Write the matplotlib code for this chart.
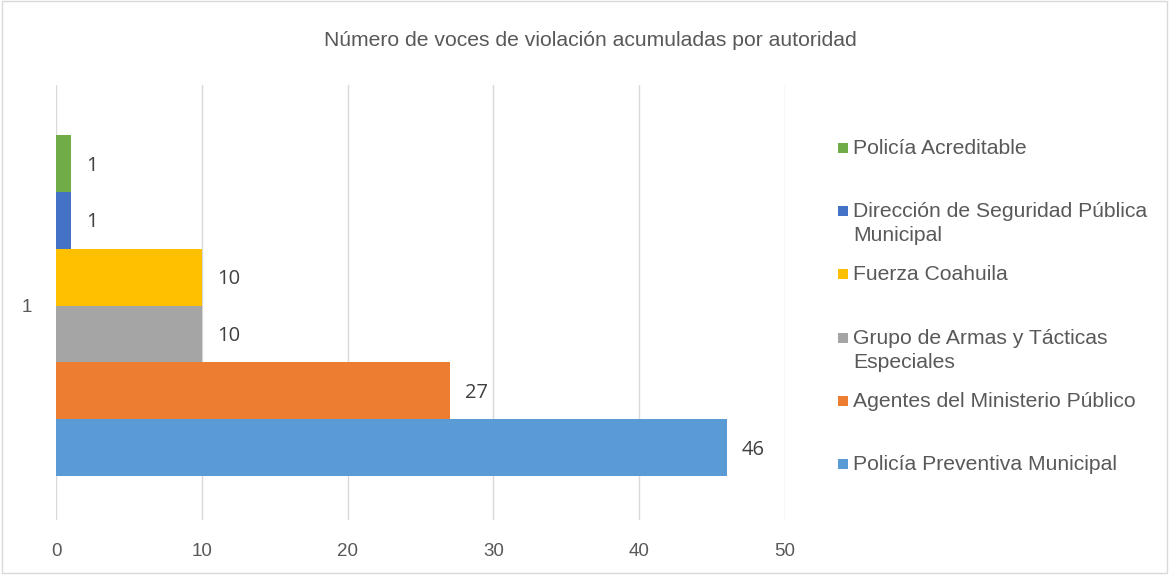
import matplotlib.pyplot as plt
from matplotlib.patches import Rectangle

# ===============================
# Data
# ===============================

titulo = "Número de voces de violación acumuladas por autoridad"
autoridades = [
    "Policía Acreditable",
    "Dirección de Seguridad Pública\nMunicipal",
    "Fuerza Coahuila",
    "Grupo de Armas y Tácticas\nEspeciales",
    "Agentes del Ministerio Público",
    "Policía Preventiva Municipal",
]
valores = [1, 1, 10, 10, 27, 46]
colores = ["#70AD47", "#4472C4", "#FFC000", "#A5A5A5", "#ED7D31", "#5B9BD5"]
categoria = ["1"]
xticks = [0, 10, 20, 30, 40, 50]

W, H = 1169, 575
TXT = "#595959"

plt.rcParams['font.family'] = ['Liberation Sans', 'DejaVu Sans']

fig = plt.figure(figsize=(W / 100, H / 100), dpi=100)

def fx(px):
    return px / W

def fy(py):
    return 1 - py / H

# chart border
fig.patches.append(Rectangle((fx(2), fy(573)), fx(1165), 1 - 3 / H, transform=fig.transFigure,
                             fill=False, edgecolor="#D9D9D9", linewidth=1))

ax = fig.add_axes([fx(56), fy(520), fx(785 - 56), (520 - 85) / H])

# ===============================
# Bars
# ===============================

n = len(valores)
for i in range(n):
    y = (n - 1) / 2 - i
    ax.barh(y, valores[i], height=1.0, color=colores[i], zorder=3)
    ax.annotate(str(valores[i]), (valores[i], y), xytext=(11, -1.5), textcoords="offset points",
                ha="left", va="center", fontsize=14.5, color="#404040",
                family=["Open Sans", "DejaVu Sans"])

ax.set_xlim(0, 50)
ax.set_ylim(-3.77, 3.88)
ax.set_xticks(xticks)
ax.set_xticklabels([str(t) for t in xticks], fontsize=13.5, color=TXT)
ax.set_yticks([0])
ax.set_yticklabels(categoria, fontsize=13.5, color=TXT)
ax.tick_params(axis="x", length=0, pad=16.5)
ax.tick_params(axis="y", length=0, pad=17)
ax.grid(axis="x", color="#D9D9D9", linewidth=1, zorder=0)
for s in ax.spines.values():
    s.set_visible(False)

fig.text(fx(590), fy(41), titulo, ha="center", va="center", fontsize=15.2, color=TXT)

# ===============================
# Legend (first lines evenly spaced)
# ===============================

for i in range(n):
    py = 148 + 63.2 * i
    fig.patches.append(Rectangle((fx(838), fy(py + 5)), fx(10), 10 / H, transform=fig.transFigure,
                                 facecolor=colores[i], edgecolor="none"))
    fig.text(fx(853), fy(py - 9), autoridades[i], ha="left", va="top", fontsize=15.2,
             color=TXT, linespacing=1.33)

fig.savefig("out.png", dpi=100)
